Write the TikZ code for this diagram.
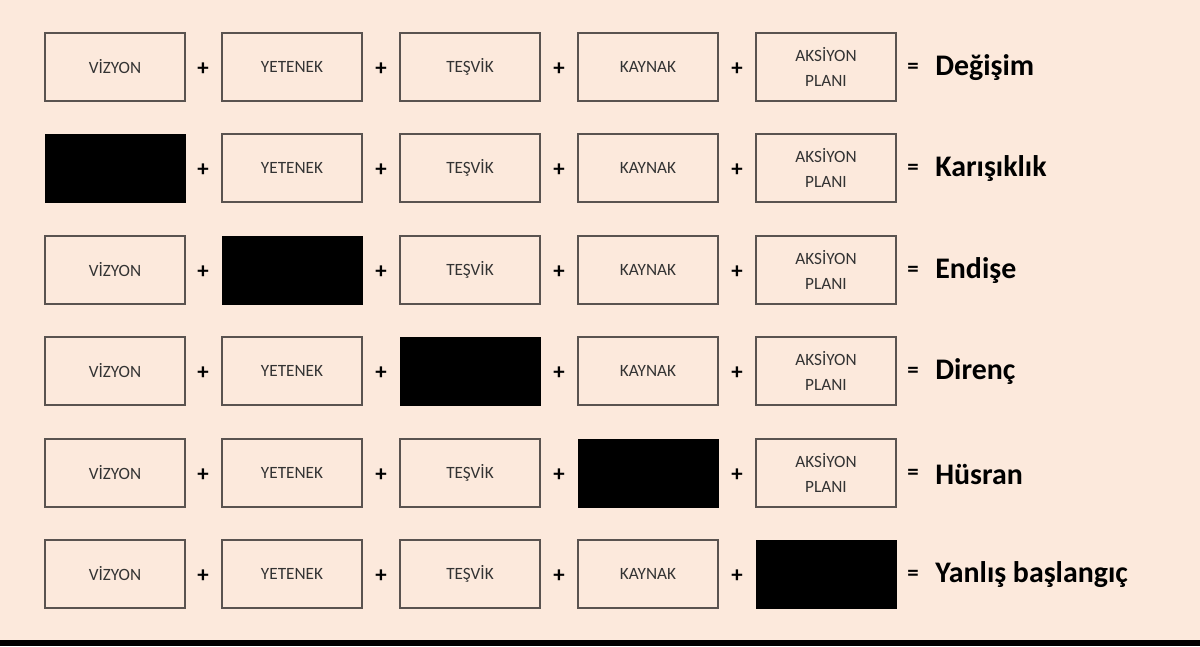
\documentclass[tikz,border=0pt]{standalone}
\usepackage{fontspec}
\setmainfont{Carlito}
\definecolor{bg}{HTML}{FCE9DC}
\definecolor{bd}{HTML}{5A5350}
\begin{document}
\begin{tikzpicture}[x=0.02cm,y=-0.02cm,
  cell/.style={draw=bd,line width=0.8pt,minimum width=2.8cm,minimum height=1.36cm,inner sep=0pt,font=\fontsize{9.8}{11}\selectfont,align=center,text=black!80},
  blk/.style={fill=black,draw=black,minimum width=2.8cm,minimum height=1.36cm,inner sep=0pt},
  op/.style={font=\fontsize{13}{14}\bfseries\selectfont,inner sep=0pt},
  res/.style={font=\fontsize{17}{18}\bfseries\selectfont,anchor=west,inner sep=0pt}]
\fill[bg] (0,0) rectangle (1200,646);
\fill[black] (0,640) rectangle (1200,646);
\def\lbls{{"VİZYON","YETENEK","TEŞVİK","KAYNAK","AKSİYON\\[2pt]PLANI"}}
\foreach \r/\y/\res in {0/67/Değişim,1/168/Karışıklık,2/270/Endişe,3/371/Direnç,4/473/Hüsran,5/574/Yanlış başlangıç}{
  \foreach \c/\x/\t in {1/115/VİZYON,2/292/YETENEK,3/470/TEŞVİK,4/648/KAYNAK,5/826/{AKSİYON\\[3pt]PLANI}}{
    \ifnum\c=\r
      \node[blk] (b\r\c) at (\x,\y) {};
    \else
      \node[cell] (b\r\c) at (\x,\y) {\t};
    \fi
  }
  \foreach \c/\x in {1/203,2/381,3/559,4/737}{\node[op] (p\r\c) at (\x,\y+2) {+};}
  \node[op] (e\r) at (913,\y+1) {=};
  \node[res] (r\r) at (935,\y+1) {\res};
}
\end{tikzpicture}
\end{document}
